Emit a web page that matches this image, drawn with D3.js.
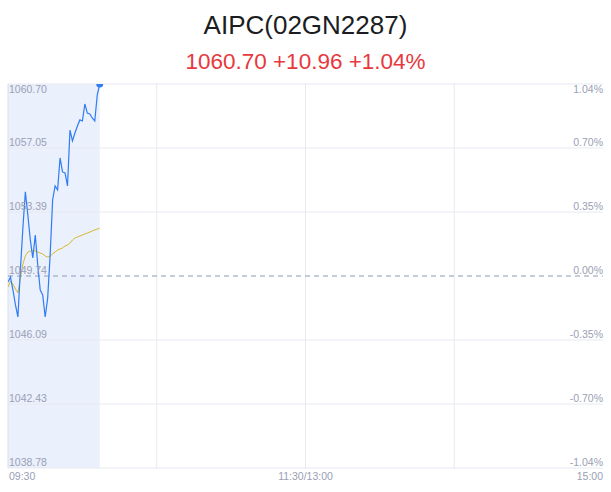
<!DOCTYPE html>
<html>
<head>
<meta charset="utf-8">
<script src="https://cdn.jsdelivr.net/npm/d3@7/dist/d3.min.js"></script>
<style>
  html, body { margin: 0; padding: 0; background: #ffffff; }
  svg { display: block; }
</style>
</head>
<body>
<svg id="chart" width="611" height="492"></svg>
<script>
// ---- data ----
const title = "AIPC(02GN2287)";
const subtitle = "1060.70 +10.96 +1.04%";
const prevClose = 1049.74;
const priceTicks = [1060.70, 1057.05, 1053.39, 1049.74, 1046.09, 1042.43, 1038.78];
const pctTicks = ["1.04%", "0.70%", "0.35%", "0.00%", "-0.35%", "-0.70%", "-1.04%"];
const timeLabels = ["09:30", "11:30/13:00", "15:00"];
const totalMinutes = 240;
const prices = [1049.40, 1049.68, 1048.94, 1048.09, 1047.40, 1050.08, 1052.48, 1054.54, 1053.22, 1051.80,
  1050.77, 1052.08, 1050.37, 1048.94, 1048.66, 1047.40, 1048.48, 1050.94, 1054.08, 1054.88,
  1054.65, 1056.48, 1055.68, 1055.62, 1054.88, 1058.07, 1057.45, 1057.90, 1058.30, 1058.65,
  1058.59, 1059.56, 1059.04, 1058.99, 1058.76, 1058.59, 1060.07, 1060.70];
const avgPrices = [1049.11, 1049.45, 1049.28, 1049.00, 1048.77, 1049.63, 1050.42, 1050.88, 1051.11, 1051.17,
  1051.17, 1051.17, 1051.11, 1051.05, 1051.00, 1050.88, 1050.82, 1050.88, 1051.00, 1051.11,
  1051.22, 1051.28, 1051.34, 1051.45, 1051.51, 1051.62, 1051.79, 1051.91, 1051.97, 1052.02,
  1052.08, 1052.14, 1052.19, 1052.25, 1052.31, 1052.37, 1052.42, 1052.45];

// ---- layout ----
const svg = d3.select("#chart");
const L = 8, R = 603, T = 84, B = 468;
const x = d3.scaleLinear().domain([0, totalMinutes]).range([L, R]);
const y = d3.scaleLinear().domain([priceTicks[priceTicks.length - 1], priceTicks[0]]).range([B, T]);

const labelColor = "#9aa0b4";
const gridColor = "#e6e9f0";

// title
svg.append("text").attr("x", 305.5).attr("y", 34).attr("text-anchor", "middle")
  .attr("font-family", "Liberation Sans, Arial, sans-serif").attr("font-size", 26)
  .attr("fill", "#1b1d22").text(title);
svg.append("text").attr("x", 305.5).attr("y", 68.5).attr("text-anchor", "middle")
  .attr("font-family", "Liberation Sans, Arial, sans-serif").attr("font-size", 22.5)
  .attr("fill", "#e8383d").text(subtitle);

// session band
const n = prices.length;
svg.append("rect").attr("x", x(0)).attr("y", T)
  .attr("width", x(n - 1) - x(0)).attr("height", B - T)
  .attr("fill", "#eaf0fc");

// horizontal grid
priceTicks.forEach((p, i) => {
  if (p === prevClose) return;
  svg.append("line").attr("x1", L).attr("x2", R).attr("y1", y(p)).attr("y2", y(p))
    .attr("stroke", gridColor).attr("stroke-width", 1);
});
// vertical grid
[60, 120, 180].forEach(m => {
  svg.append("line").attr("x1", x(m)).attr("x2", x(m)).attr("y1", T).attr("y2", B)
    .attr("stroke", gridColor).attr("stroke-width", 1);
});
// left axis line
svg.append("line").attr("x1", L).attr("x2", L).attr("y1", T).attr("y2", B)
  .attr("stroke", "#d8deea").attr("stroke-width", 1);
// prev close dashed
svg.append("line").attr("x1", L).attr("x2", R).attr("y1", y(prevClose)).attr("y2", y(prevClose))
  .attr("stroke", "#8f99b3").attr("stroke-width", 1).attr("stroke-dasharray", "5,4");

// clip
svg.append("clipPath").attr("id", "plotclip").append("rect")
  .attr("x", L).attr("y", T).attr("width", R - L).attr("height", B - T);
const g = svg.append("g").attr("clip-path", "url(#plotclip)");

const line = d3.line().x((d, i) => x(i)).y(d => y(d));
g.append("path").datum(avgPrices).attr("d", line).attr("fill", "none")
  .attr("stroke", "#d6b92a").attr("stroke-width", 1);
g.append("path").datum(prices).attr("d", line).attr("fill", "none")
  .attr("stroke", "#2f7cf3").attr("stroke-width", 1.2);
g.append("circle").attr("cx", x(n - 1)).attr("cy", y(prices[n - 1])).attr("r", 3.5)
  .attr("fill", "#2f7cf3");

// axis labels
const fontAx = "Liberation Sans, Arial, sans-serif";
priceTicks.forEach((p, i) => {
  const yy = i === 0 ? y(p) + 8.5 : y(p) - 2;
  svg.append("text").attr("x", L + 1).attr("y", yy).attr("font-family", fontAx)
    .attr("font-size", 10.5).attr("fill", labelColor).text(p.toFixed(2));
  svg.append("text").attr("x", R).attr("y", yy).attr("text-anchor", "end").attr("font-family", fontAx)
    .attr("font-size", 10.5).attr("fill", labelColor).text(pctTicks[i]);
});
const timePos = [0, 120, 240];
const anchors = ["start", "middle", "end"];
timeLabels.forEach((t, i) => {
  svg.append("text").attr("x", x(timePos[i]) + (i === 0 ? 1 : 0)).attr("y", 479.5)
    .attr("text-anchor", anchors[i]).attr("font-family", fontAx)
    .attr("font-size", 10.5).attr("fill", labelColor).text(t);
});
</script>
</body>
</html>
